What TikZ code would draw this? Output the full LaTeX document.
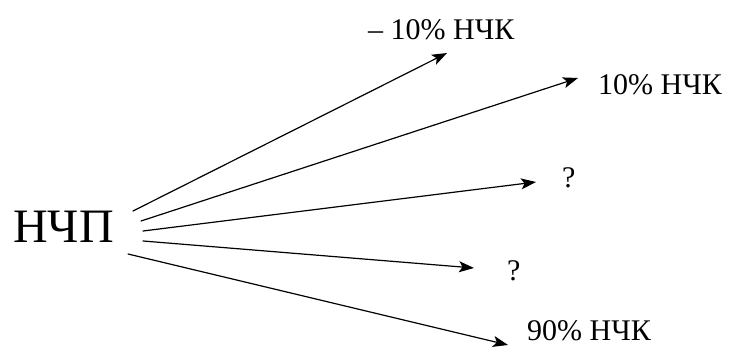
\documentclass[tikz,border=0pt]{standalone}
\usepackage{fontspec}
\setmainfont{Liberation Serif}
\usetikzlibrary{arrows.meta}
\tikzset{
  lbl/.style={anchor=base west,inner sep=0pt,font=\fontsize{30}{34}\selectfont},
  ray/.style={-{Stealth[length=15pt,width=11pt,inset=3.5pt]},line width=1.2pt}
}
\begin{document}
\begin{tikzpicture}[x=1pt,y=-1pt,line cap=round,line join=round]
	\useasboundingbox (0,0) rectangle (730,347);
	\node[anchor=base west,inner sep=0pt,font=\fontsize{48}{52}\selectfont] (ncp) at (13,243) {НЧП};
	% labels
	\node[lbl] (l1) at (368,40) {– 10\% НЧК};
	\node[lbl] (l2) at (598,95) {10\% НЧК};
	\node[lbl] (l3) at (562,188) {?};
	\node[lbl] (l4) at (507,280) {?};
	\node[lbl] (l5) at (527,340) {90\% НЧК};
	% start and end points of the rays
	\coordinate (s1) at (133,211); \coordinate (e1) at (447,53);
	\coordinate (s2) at (141,221); \coordinate (e2) at (578,78);
	\coordinate (s3) at (143,231); \coordinate (e3) at (536,182);
	\coordinate (s4) at (143,241); \coordinate (e4) at (474,268);
	\coordinate (s5) at (128,254); \coordinate (e5) at (508,345);
	\foreach \i in {1,...,5}
		\draw[ray] (s\i) -- (e\i);
\end{tikzpicture}
\end{document}
